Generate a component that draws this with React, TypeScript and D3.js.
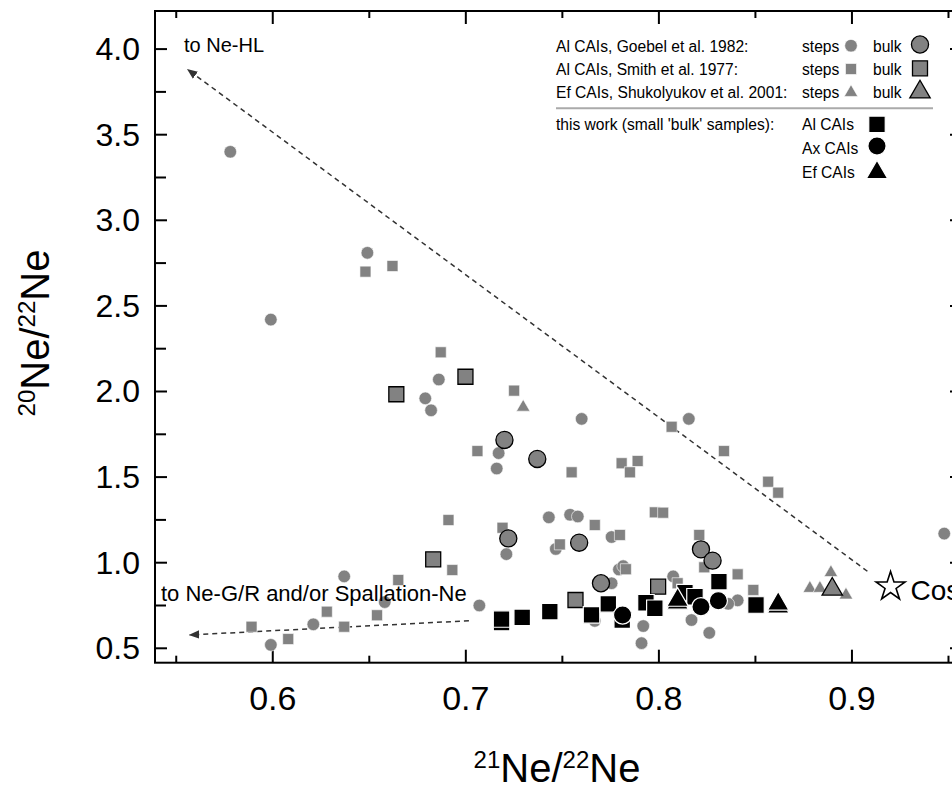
import React from "react";
import * as d3 from "d3";

// 21Ne/22Ne vs 20Ne/22Ne for CAIs
const goebelSteps = [
  [0.578, 3.4], [0.599, 2.42], [0.649, 2.81], [0.686, 2.07], [0.679, 1.96], [0.682, 1.89],
  [0.717, 1.64], [0.716, 1.55], [0.743, 1.265], [0.721, 1.05], [0.637, 0.92], [0.658, 0.77],
  [0.707, 0.75], [0.621, 0.64], [0.599, 0.52], [0.76, 1.84], [0.8155, 1.84], [0.754, 1.28],
  [0.758, 1.27], [0.7755, 1.15], [0.7466, 1.08], [0.7793, 0.96], [0.7815, 0.98], [0.8074, 0.92],
  [0.7755, 0.88], [0.8408, 0.78], [0.8359, 0.76], [0.8169, 0.665], [0.8261, 0.59], [0.7919, 0.63],
  [0.791, 0.53], [0.7668, 0.66], [0.9478, 1.17],
];
const goebelBulk = [
  [0.72, 1.717], [0.737, 1.606], [0.722, 1.142], [0.7587, 1.117], [0.8218, 1.078], [0.8278, 1.012], [0.77, 0.88],
];
const smithSteps = [
  [0.648, 2.7], [0.662, 2.733], [0.687, 2.229], [0.725, 2.005], [0.706, 1.652], [0.691, 1.249],
  [0.719, 1.204], [0.693, 0.957], [0.665, 0.899], [0.628, 0.714], [0.654, 0.693], [0.637, 0.626],
  [0.589, 0.626], [0.608, 0.554], [0.8066, 1.794], [0.8337, 1.652], [0.7548, 1.528], [0.7807, 1.581],
  [0.789, 1.594], [0.785, 1.528], [0.8566, 1.473], [0.8618, 1.409], [0.7979, 1.294], [0.8022, 1.292],
  [0.7668, 1.22], [0.7798, 1.162], [0.7487, 1.107], [0.8209, 1.162], [0.8235, 0.973], [0.7829, 0.962],
  [0.8408, 0.932], [0.8489, 0.841], [0.8097, 0.88],
];
const smithBulk = [[0.664, 1.984], [0.6998, 2.086], [0.6831, 1.02], [0.7996, 0.86], [0.7568, 0.782]];
const shukSteps = [[0.7297, 1.908], [0.8891, 0.942], [0.8782, 0.85], [0.8834, 0.85], [0.8969, 0.811]];
const shukBulk = [[0.8898, 0.845]];
const thisAl = [
  [0.7185, 0.65], [0.7185, 0.671], [0.7292, 0.681], [0.7435, 0.714], [0.7651, 0.695], [0.7738, 0.759],
  [0.781, 0.665], [0.7933, 0.766], [0.7979, 0.734], [0.8135, 0.825], [0.8187, 0.801], [0.8311, 0.889],
  [0.8503, 0.753],
];
const thisAx = [[0.7812, 0.694], [0.8218, 0.743], [0.8308, 0.778]];
const thisEf = [[0.8097, 0.765], [0.8097, 0.782], [0.8618, 0.742], [0.8618, 0.759]];
const cosmogenic = [0.92, 0.86];
const toHL = [[0.908, 0.95], [0.556, 3.88]];
const toGR = [[0.7016, 0.661], [0.557, 0.578]];

const xTicks = [0.6, 0.7, 0.8, 0.9];
const xMinor = [0.55, 0.65, 0.75, 0.85, 0.95];
const yTicks = [0.5, 1.0, 1.5, 2.0, 2.5, 3.0, 3.5, 4.0];
const yMinor = [0.75, 1.25, 1.75, 2.25, 2.75, 3.25, 3.75];

const legendRows = [
  "Al CAIs, Goebel et al. 1982:",
  "Al CAIs, Smith et al. 1977:",
  "Ef CAIs, Shukolyukov et al. 2001:",
];

const W = 952, H = 790;
const left = 155, right = 962, top = 11, bottom = 662.7;
const GREY = "#828282";
const FONT = "'Liberation Sans', Arial, sans-serif";

const x = d3.scaleLinear().domain([0.539, 0.957]).range([left, right]);
const y = d3.scaleLinear().domain([0.4159, 4.2225]).range([bottom, top]);

const sym = (type, size) => d3.symbol().type(type).size(size)();
const shapes = {
  smallCircle: sym(d3.symbolCircle, 125),
  smallSquare: sym(d3.symbolSquare, 121),
  smallTri: sym(d3.symbolTriangle, 80),
  bulkCircle: sym(d3.symbolCircle, 230),
  bulkSquare: sym(d3.symbolSquare, 225),
  bulkTri: sym(d3.symbolTriangle, 180),
  blackCircle: sym(d3.symbolCircle, 260),
  blackSquare: sym(d3.symbolSquare, 272),
  blackTri: sym(d3.symbolTriangle, 200),
  star: sym(d3.symbolStar, 260),
};

const styles = {
  small: { fill: GREY, stroke: "#fff", strokeWidth: 0.6 },
  bulk: { fill: GREY, stroke: "#000", strokeWidth: 1.3 },
  black: { fill: "#000", stroke: "#fff", strokeWidth: 1.2 },
};

function Points({ data, d, st }) {
  return (
    <g>
      {data.map((p, i) => (
        <path key={i} d={d} transform={`translate(${x(p[0])},${y(p[1])})`} {...st} />
      ))}
    </g>
  );
}

function Sym({ cx, cy, d, st }) {
  return <path d={d} transform={`translate(${cx},${cy})`} {...st} />;
}

export default function App() {
  const dash = { stroke: "#333", strokeWidth: 1.5, strokeDasharray: "5,4", fill: "none" };
  return (
    <svg width={W} height={H} style={{ position: "absolute", left: 0, top: 0, background: "#fff" }} fontFamily={FONT}>
      <defs>
        <marker id="arr" viewBox="0 0 10 10" refX="9" refY="5" markerWidth="7" markerHeight="7" orient="auto">
          <path d="M0,1 L10,5 L0,9 Z" fill="#333" />
        </marker>
        <clipPath id="plot">
          <rect x={left} y={top} width={right - left} height={bottom - top} />
        </clipPath>
      </defs>

      {/* frame */}
      <rect x={left} y={top} width={right - left} height={bottom - top} fill="none" stroke="#000" strokeWidth={2} />

      {/* x ticks bottom & top */}
      {xTicks.map((t) => (
        <g key={"x" + t}>
          <line x1={x(t)} x2={x(t)} y1={bottom} y2={bottom - 13} stroke="#000" strokeWidth={2} />
          <line x1={x(t)} x2={x(t)} y1={top} y2={top + 13} stroke="#000" strokeWidth={2} />
          <text x={x(t)} y={710} fontSize={34} textAnchor="middle">{d3.format(".1f")(t)}</text>
        </g>
      ))}
      {xMinor.map((t) => (
        <g key={"xm" + t}>
          <line x1={x(t)} x2={x(t)} y1={bottom} y2={bottom - 7} stroke="#000" strokeWidth={2} />
          <line x1={x(t)} x2={x(t)} y1={top} y2={top + 7} stroke="#000" strokeWidth={2} />
        </g>
      ))}
      {/* y ticks left & right */}
      {yTicks.map((t) => (
        <g key={"y" + t}>
          <line x1={left} x2={left + 12} y1={y(t)} y2={y(t)} stroke="#000" strokeWidth={2} />
          <line x1={right} x2={right - 12} y1={y(t)} y2={y(t)} stroke="#000" strokeWidth={2} />
          <text x={140} y={y(t)} fontSize={32} textAnchor="end" dominantBaseline="central">{d3.format(".1f")(t)}</text>
        </g>
      ))}
      {yMinor.map((t) => (
        <g key={"ym" + t}>
          <line x1={left} x2={left + 11} y1={y(t)} y2={y(t)} stroke="#000" strokeWidth={2} />
          <line x1={right} x2={right - 7} y1={y(t)} y2={y(t)} stroke="#000" strokeWidth={2} />
        </g>
      ))}

      {/* axis titles */}
      <text transform="translate(49,333) rotate(-90)" fontSize={40} textAnchor="middle">
        <tspan fontSize={24} dy={-14}>20</tspan>
        <tspan dy={14}>Ne/</tspan>
        <tspan fontSize={24} dy={-14}>22</tspan>
        <tspan dy={14}>Ne</tspan>
      </text>
      <text x={557} y={782} fontSize={40} textAnchor="middle">
        <tspan fontSize={24} dy={-14}>21</tspan>
        <tspan dy={14}>Ne/</tspan>
        <tspan fontSize={24} dy={-14}>22</tspan>
        <tspan dy={14}>Ne</tspan>
      </text>

      <g clipPath="url(#plot)">
        {/* mixing arrows */}
        <line x1={x(toHL[0][0])} y1={y(toHL[0][1])} x2={x(toHL[1][0])} y2={y(toHL[1][1])} {...dash} markerEnd="url(#arr)" />
        <line x1={x(toGR[0][0])} y1={y(toGR[0][1])} x2={x(toGR[1][0])} y2={y(toGR[1][1])} {...dash} markerEnd="url(#arr)" />

        <Points data={goebelSteps} d={shapes.smallCircle} st={styles.small} />
        <Points data={smithSteps} d={shapes.smallSquare} st={styles.small} />
        <Points data={shukSteps} d={shapes.smallTri} st={styles.small} />
        <Points data={goebelBulk} d={shapes.bulkCircle} st={styles.bulk} />
        <Points data={smithBulk} d={shapes.bulkSquare} st={styles.bulk} />
        <Points data={shukBulk} d={shapes.bulkTri} st={styles.bulk} />
        <Points data={thisAl} d={shapes.blackSquare} st={styles.black} />
        <Points data={thisEf} d={shapes.blackTri} st={styles.black} />
        <Points data={thisAx} d={shapes.blackCircle} st={styles.black} />

        <path d={shapes.star} transform={`translate(${x(cosmogenic[0])},${y(cosmogenic[1])})`} fill="#fff" stroke="#000" strokeWidth={1.6} />
        <text x={x(cosmogenic[0]) + 20} y={y(cosmogenic[1]) + 13} fontSize={28}>Cosmogenic</text>

        <text x={184} y={52} fontSize={20}>to Ne-HL</text>
        <text x={161} y={601} fontSize={22}>to Ne-G/R and/or Spallation-Ne</text>
      </g>

      {/* legend */}
      <g fontSize={15.6}>
        {legendRows.map((r, i) => (
          <g key={r}>
            <text x={556} y={51.5 + i * 23}>{r}</text>
            <text x={802} y={51.5 + i * 23}>steps</text>
            <text x={873} y={51.5 + i * 23}>bulk</text>
          </g>
        ))}
        <Sym cx={851} cy={45.7} d={shapes.smallCircle} st={styles.small} />
        <Sym cx={851} cy={69} d={shapes.smallSquare} st={styles.small} />
        <Sym cx={851} cy={92.5} d={shapes.smallTri} st={styles.small} />
        <Sym cx={920} cy={44.5} d={shapes.bulkCircle} st={styles.bulk} />
        <Sym cx={920} cy={68.3} d={shapes.bulkSquare} st={styles.bulk} />
        <Sym cx={920} cy={92} d={shapes.bulkTri} st={styles.bulk} />
        <line x1={556} x2={933} y1={108.3} y2={108.3} stroke="#aaa" strokeWidth={2} />
        <text x={556} y={130}>this work (small 'bulk' samples):</text>
        <text x={802} y={130}>Al CAIs</text>
        <text x={802} y={154}>Ax CAIs</text>
        <text x={802} y={178}>Ef CAIs</text>
        <Sym cx={877} cy={124.3} d={shapes.blackSquare} st={styles.black} />
        <Sym cx={877} cy={146} d={shapes.blackCircle} st={styles.black} />
        <Sym cx={877} cy={172.5} d={shapes.blackTri} st={styles.black} />
      </g>
    </svg>
  );
}
